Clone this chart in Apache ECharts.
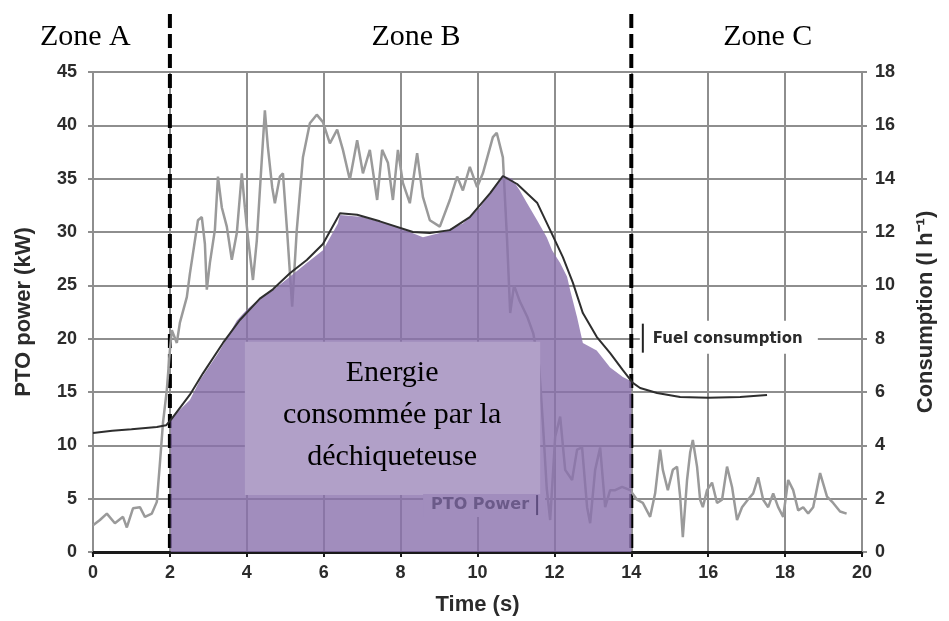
<!DOCTYPE html>
<html><head><meta charset="utf-8">
<script src="https://cdn.jsdelivr.net/npm/echarts@6/dist/echarts.min.js"></script>
<style>html,body{margin:0;padding:0;background:#fff}#c{width:949px;height:621px}</style>
</head><body><div id="c"></div>
<script>
// PTO power (kW), left axis
const ptoTime = [0.0,0.18,0.36,0.57,0.78,0.88,1.04,1.22,1.35,1.53,1.66,1.74,1.82,1.92,2.0,2.05,2.18,2.26,2.44,2.52,2.6,2.73,2.83,2.91,2.96,3.04,3.17,3.25,3.35,3.48,3.61,3.74,3.87,3.95,4.03,4.16,4.26,4.34,4.47,4.55,4.66,4.73,4.86,4.94,5.05,5.18,5.3,5.46,5.64,5.82,5.98,6.16,6.35,6.5,6.68,6.87,7.02,7.2,7.39,7.52,7.67,7.8,7.93,8.06,8.24,8.43,8.58,8.76,9.02,9.28,9.47,9.62,9.8,9.99,10.14,10.4,10.5,10.66,10.77,10.85,10.95,11.1,11.3,11.45,11.6,11.7,11.8,11.89,12.02,12.15,12.28,12.46,12.59,12.72,12.85,12.93,13.06,13.19,13.32,13.45,13.58,13.76,13.97,14.15,14.3,14.49,14.62,14.75,14.82,14.95,15.08,15.19,15.27,15.34,15.45,15.53,15.6,15.71,15.79,15.86,15.97,16.1,16.23,16.36,16.49,16.62,16.75,16.88,17.03,17.17,17.3,17.43,17.56,17.69,17.82,17.95,18.08,18.21,18.34,18.47,18.6,18.73,18.91,19.09,19.25,19.43,19.6];
const ptoPower = [2.5,3.0,3.6,2.7,3.3,2.3,4.1,4.2,3.3,3.6,4.7,8.3,12.1,15.2,18.9,20.8,19.6,21.5,23.9,26.1,28.0,31.1,31.4,28.9,24.6,27.1,30.2,35.2,32.3,30.5,27.4,29.9,35.5,32.3,29.5,25.5,29.2,33.9,41.4,37.9,34.2,32.7,35.2,35.5,30.0,23.0,30.2,37.0,40.2,41.0,40.3,38.3,39.6,37.7,34.9,38.6,35.5,37.7,33.0,37.7,36.5,33.0,37.7,34.6,32.7,37.4,33.3,31.1,30.5,33.0,35.2,33.9,36.1,34.2,35.5,38.9,39.3,37.0,29.2,22.4,25.0,23.5,22.0,20.5,17.5,12.1,6.0,3.0,10.8,12.7,7.7,6.75,9.6,9.8,4.2,2.7,7.7,9.8,4.2,5.8,5.8,6.1,5.8,4.9,4.6,3.3,5.5,9.6,7.7,5.8,7.7,8.0,5.2,1.4,6.75,9.3,10.5,8.0,4.9,4.2,5.8,6.5,4.6,4.9,8.0,6.1,3.0,4.2,4.9,5.5,7.0,4.9,4.2,5.5,4.2,3.3,6.75,5.8,3.9,4.2,3.6,4.2,7.4,5.2,4.6,3.8,3.6];

// Fuel consumption (l/h), right axis
const fuelTime = [0,0.5,1.0,1.66,1.9,2.05,2.52,2.86,3.38,3.82,4.34,4.68,5.12,5.56,5.98,6.37,6.42,6.87,7.46,8.32,8.76,9.28,9.8,10.33,10.66,11.03,11.55,11.89,12.22,12.48,12.74,13.1,13.45,13.78,14.04,14.23,14.67,15.27,16.0,16.83,17.53];
const fuelRate = [4.46,4.55,4.6,4.69,4.75,5.0,5.9,6.7,7.84,8.7,9.5,9.85,10.45,10.95,11.55,12.56,12.7,12.65,12.4,12.0,11.96,12.07,12.56,13.46,14.1,13.8,13.1,12.07,11.06,10.1,8.96,8.07,7.46,6.82,6.34,6.15,5.96,5.81,5.78,5.81,5.89];

// Shaded energy area outline (kW scale)
const areaTime = [2.02,2.52,2.78,3.25,3.48,3.74,4.0,4.34,4.68,5.12,5.56,5.98,6.37,6.42,7.02,7.9,8.58,9.02,9.62,10.06,10.5,10.66,10.9,11.1,11.29,11.55,11.8,11.94,12.15,12.33,12.41,12.59,12.74,13.1,13.45,13.78,14.0,14.0];
const areaTop  = [12.5,14.25,16.1,18.6,20.05,21.7,22.7,23.8,24.55,25.8,27.1,28.3,30.8,31.6,31.4,30.5,29.5,29.9,30.8,32.3,34.6,35.3,35.0,33.9,32.7,31.1,29.5,28.3,27.1,25.8,24.55,22.0,19.6,18.9,17.3,16.4,16.0,0];

const zoneBounds = [2, 14];
const zoneNames = ['Zone A', 'Zone B', 'Zone C'];
const zoneLabelX = [-0.2, 8.4, 17.55];
const boxCorners = [[3.95, 19.7], [11.63, 5.35]];
const boxText = 'Energie\nconsommée par la\ndéchiqueteuse';
const boxTextAt = [7.78, 12.84];
const fuelLabel = 'Fuel consumption';
const fuelLabelAt = [14.3, 8];
const ptoLabel = 'PTO Power';
const ptoLabelAt = [11.55, 4.4];

const GRID = '#8e8e8e';
const TICKFONT = {color:'#2b2b2b', fontSize:18, fontWeight:'bold', fontFamily:'Liberation Sans'};
const NAMEFONT = {color:'#2b2b2b', fontSize:22, fontWeight:'bold', fontFamily:'Liberation Sans'};

const chart = echarts.init(document.getElementById('c'), null, {renderer:'canvas'});
chart.setOption({
  animation:false,
  backgroundColor:'#fff',
  grid:{left:93, right:87, top:72, bottom:69, containLabel:false},
  xAxis:{type:'value', min:0, max:20, interval:2,
    name:'Time (s)', nameLocation:'middle', nameGap:42, nameTextStyle:NAMEFONT,
    axisLine:{show:true, lineStyle:{color:'#1a1a1a', width:3}},
    axisTick:{show:true, length:5, lineStyle:{color:'#1a1a1a', width:2}},
    axisLabel:{...TICKFONT, margin:12},
    splitLine:{show:true, lineStyle:{color:GRID, width:2}}},
  yAxis:[
    {type:'value', min:0, max:45, interval:5, position:'left',
     name:'PTO power (kW)', nameLocation:'middle', nameGap:58, nameRotate:90, nameTextStyle:NAMEFONT,
     axisLine:{show:true, lineStyle:{color:GRID, width:2}},
     axisTick:{show:true, length:5, lineStyle:{color:GRID, width:2}},
     axisLabel:{...TICKFONT, margin:16},
     splitLine:{show:true, lineStyle:{color:GRID, width:2}}},
    {type:'value', min:0, max:18, interval:2, position:'right',
     name:'Consumption (l h⁻¹)', nameLocation:'middle', nameGap:53, nameRotate:90, nameTextStyle:NAMEFONT,
     axisLine:{show:true, lineStyle:{color:GRID, width:2}},
     axisTick:{show:true, length:5, lineStyle:{color:GRID, width:2}},
     axisLabel:{...TICKFONT, margin:13},
     splitLine:{show:false}}
  ],
  series:[
    {type:'line', name:'PTO power', yAxisIndex:0, z:2, showSymbol:false, symbol:'none',
     lineStyle:{color:'#9a9a9a', width:2.5},
     data: ptoTime.map((t,i)=>[t, ptoPower[i]])},
    {type:'line', name:'Energy', yAxisIndex:0, z:3, showSymbol:false, symbol:'none',
     lineStyle:{width:0, opacity:0},
     areaStyle:{color:'rgb(138,113,173)', opacity:0.8},
     data: areaTime.map((t,i)=>[t, areaTop[i]])},
    {type:'line', name:'Fuel consumption', yAxisIndex:1, z:4, showSymbol:false, symbol:'none',
     lineStyle:{color:'#2e2e2e', width:2},
     data: fuelTime.map((t,i)=>[t, fuelRate[i]])}
  ]
});

const pL = (x,y)=>chart.convertToPixel({xAxisIndex:0, yAxisIndex:0}, [x,y]);
const pR = (x,y)=>chart.convertToPixel({xAxisIndex:0, yAxisIndex:1}, [x,y]);
const g = [];
const bottomY = pL(0,0)[1];
zoneBounds.forEach(b=>{
  const px = pL(b,0)[0];
  g.push({type:'line', z:1, silent:true, shape:{x1:px, y1:14, x2:px, y2:bottomY},
    style:{stroke:'#000', lineWidth:4, lineDash:[14,6]}});
});
zoneNames.forEach((n,i)=>{
  g.push({type:'text', z:10, x:pL(zoneLabelX[i],0)[0], y:37,
    style:{text:n, fill:'#000', font:'30px "Liberation Serif"', align:'center', verticalAlign:'middle'}});
});
const b0 = pL(boxCorners[0][0], boxCorners[0][1]), b1 = pL(boxCorners[1][0], boxCorners[1][1]);
g.push({type:'rect', z:5, shape:{x:b0[0], y:b0[1], width:b1[0]-b0[0], height:b1[1]-b0[1]},
  style:{fill:'#b1a0c8'}});
const tp = pL(boxTextAt[0], boxTextAt[1]);
g.push({type:'text', z:10, x:tp[0], y:tp[1],
  style:{text:boxText, fill:'#000', font:'30px "Liberation Serif"', align:'center', verticalAlign:'middle', lineHeight:42}});
// fuel label
const fp = pR(fuelLabelAt[0], fuelLabelAt[1]);
g.push({type:'rect', z:8, shape:{x:fp[0]-3, y:fp[1]-18, width:178, height:33}, style:{fill:'#fff'}});
g.push({type:'line', z:9, shape:{x1:fp[0], y1:fp[1]-15, x2:fp[0], y2:fp[1]+14}, style:{stroke:'#222', lineWidth:2}});
g.push({type:'text', z:10, x:fp[0]+10, y:fp[1],
  style:{text:fuelLabel, fill:'#2b2b2b', font:'bold 15px "DejaVu Sans"', align:'left', verticalAlign:'middle'}});
// PTO label
const pp = pL(ptoLabelAt[0], ptoLabelAt[1]);
g.push({type:'rect', z:8, shape:{x:pp[0]-114, y:pp[1]-11, width:122, height:23}, style:{fill:'#a18dbd'}});
g.push({type:'line', z:9, shape:{x1:pp[0], y1:pp[1]-10, x2:pp[0], y2:pp[1]+10}, style:{stroke:'#5e4d7e', lineWidth:2}});
g.push({type:'text', z:10, x:pp[0]-8, y:pp[1],
  style:{text:ptoLabel, fill:'#6b5a89', font:'bold 16px "DejaVu Sans"', align:'right', verticalAlign:'middle'}});
chart.setOption({graphic:g});
</script>
</body></html>
